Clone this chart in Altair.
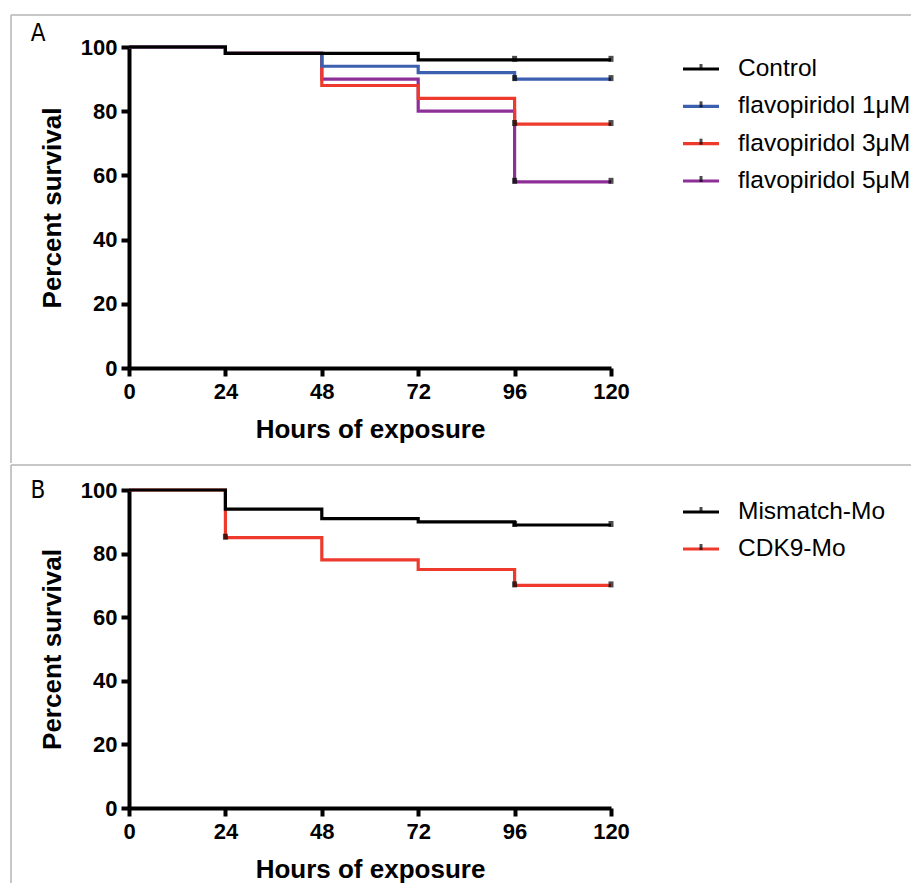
import altair as alt
import pandas as pd

# ---------------- data ----------------
HOURS = [0, 24, 48, 72, 96, 120]
X_TICKS = [0, 24, 48, 72, 96, 120]
Y_TICKS = [0, 20, 40, 60, 80, 100]

A_NAMES = ["Control", "flavopiridol 1μM", "flavopiridol 3μM", "flavopiridol 5μM"]
A_COLORS = ["#000000", "#3d5fb0", "#ee3a2c", "#8e2f98"]
A_CONTROL = [100, 98, 98, 96, 96, 96]
A_FLAVO1 = [100, 98, 94, 92, 90, 90]
A_FLAVO3 = [100, 98, 88, 84, 76, 76]
A_FLAVO5 = [100, 98, 90, 80, 58, 58]
A_CENSOR = [[96, 120], [96, 120], [96, 120], [96, 120]]

B_NAMES = ["Mismatch-Mo", "CDK9-Mo"]
B_COLORS = ["#000000", "#ee3a2c"]
B_MISMATCH = [100, 94, 91, 90, 89, 89]
B_CDK9 = [100, 85, 78, 75, 70, 70]
B_CENSOR = [[96, 120], [24, 96, 120]]

FONT = "Liberation Sans"
FRAME = "#b4b4b4"


def panel(letter, names, colors, series, censor, height, box_top, box_bottom,
          legend_range, letter_y):
    rows = []
    for name, vals in zip(names, series):
        for t, v in zip(HOURS, vals):
            rows.append({"series": name, "hours": t, "survival": v})
    df = pd.DataFrame(rows)
    cens = []
    for name, vals, ts in zip(names, series, censor):
        for t in ts:
            cens.append({"series": name, "hours": t, "survival": vals[HOURS.index(t)]})
    cdf = pd.DataFrame(cens)
    leg = pd.DataFrame({"series": names})
    one = pd.DataFrame({"k": [0]})

    xs = alt.Scale(domain=[0, 120], nice=False, zero=False)
    ys = alt.Scale(domain=[0, 100], nice=False)
    color = alt.Color("series:N", scale=alt.Scale(domain=names, range=colors), legend=None)
    x_axis = alt.Axis(values=X_TICKS, title="Hours of exposure", labelPadding=5, labelFlush=False,
                      titlePadding=14, titleFontSize=26)
    y_axis = alt.Axis(values=Y_TICKS, title="Percent survival", labelPadding=4, labelFlush=False,
                      titlePadding=15, titleFontSize=26)
    x_enc = alt.X("hours:Q", scale=xs, axis=x_axis)
    y_enc = alt.Y("survival:Q", scale=ys, axis=y_axis)

    main_layers = []
    for name in reversed(names):
        main_layers.append(
            alt.Chart(df).transform_filter(alt.datum.series == name)
            .mark_line(interpolate="step-after", strokeWidth=3.2, clip=False)
            .encode(x=x_enc, y=y_enc, color=color)
        )
    main_layers.append(
        alt.Chart(cdf).mark_tick(orient="vertical", size=6, thickness=5, color="black", yOffset=-1)
        .encode(x=x_enc, y=y_enc)
    )
    main = alt.layer(*main_layers)

    ly = alt.Y("series:N", scale=alt.Scale(type="point", domain=names, range=legend_range, padding=0),
               axis=None)
    legend = alt.layer(
        alt.Chart(leg).mark_rule(strokeWidth=3.2).encode(
            x=alt.value(554), x2=alt.value(590), y=ly, color=color),
        alt.Chart(leg).mark_tick(orient="vertical", size=6, thickness=3, color="black", yOffset=-2)
        .encode(x=alt.value(572), y=ly),
        alt.Chart(leg).mark_text(align="left", baseline="middle", fontSize=24.5, font=FONT, color="black")
        .encode(x=alt.value(609), y=ly, text="series:N"),
    )

    deco = [
        alt.Chart(one).mark_rule(color=FRAME, strokeWidth=1.5).encode(
            x=alt.value(-118), y=alt.value(box_top), y2=alt.value(box_bottom)),
        alt.Chart(one).mark_rule(color=FRAME, strokeWidth=1.5).encode(
            x=alt.value(-118), x2=alt.value(782), y=alt.value(box_top)),
        alt.Chart(one).mark_text(align="center", baseline="middle", fontSize=24,
                                 font="Liberation Sans Narrow, DejaVu Sans Condensed, Liberation Sans",
                                 color="black")
        .encode(x=alt.value(-91), y=alt.value(letter_y), text=alt.value(letter)),
    ]

    return alt.layer(main, legend, *deco).resolve_scale(y="independent").properties(
        width=482, height=height)


pA = panel("A", A_NAMES, A_COLORS, [A_CONTROL, A_FLAVO1, A_FLAVO3, A_FLAVO5], A_CENSOR,
           321, -32, 416, [22, 134], -13)
pB = panel("B", B_NAMES, B_COLORS, [B_MISMATCH, B_CDK9], B_CENSOR,
           318, -25, 393, [22, 59], 1)

chart = (
    alt.vconcat(pA, pB, spacing=0)
    .resolve_scale(color="independent")
    .properties(padding={"left": 2, "top": 6, "right": 0, "bottom": 0}, background="white")
    .configure_view(stroke=None)
    .configure_axis(domainColor="black", domainWidth=4, tickColor="black", tickWidth=4, tickSize=8,
                    labelFont=FONT, labelFontWeight="bold", labelFontSize=22, labelColor="black",
                    titleFont=FONT, titleFontWeight="bold", titleColor="black", grid=False)
)

chart.save("out.html", embed_options={"renderer": "svg", "actions": False})
